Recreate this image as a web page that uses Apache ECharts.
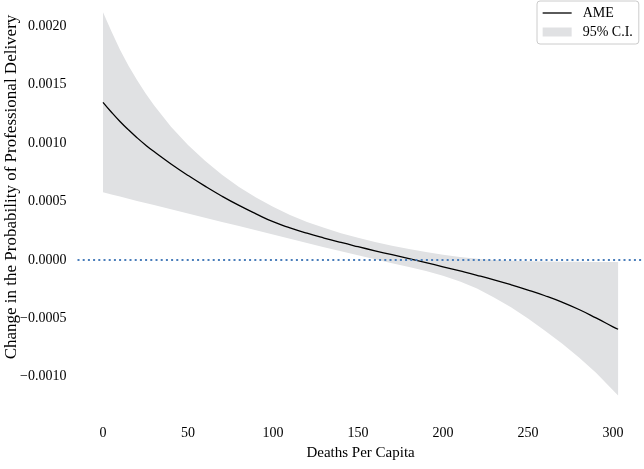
<!DOCTYPE html>
<html>
<head>
<meta charset="utf-8">
<script src="https://cdn.jsdelivr.net/npm/echarts@6/dist/echarts.min.js"></script>
<style>
html,body{margin:0;padding:0;background:#fff;}
#chart{width:644px;height:469px;}
</style>
</head>
<body>
<div id="chart"></div>
<script>
// Deaths per capita (x)
const deaths = [0,5,10,15,20,25,30,40,50,60,70,80,90,100,110,120,130,140,150,160,170,180,190,200,210,220,230,240,250,260,270,280,290,300,303];
// Average marginal effect (x 1e-3)
const ame = [1.350,1.265,1.186,1.114,1.047,0.985,0.928,0.822,0.724,0.632,0.546,0.467,0.395,0.328,0.275,0.229,0.188,0.150,0.114,0.079,0.045,0.011,-0.023,-0.058,-0.094,-0.131,-0.170,-0.212,-0.257,-0.306,-0.361,-0.424,-0.496,-0.572,-0.593];
// 95% CI upper bound (x 1e-3)
const ciUpper = [2.120,1.955,1.800,1.663,1.540,1.428,1.325,1.140,0.985,0.850,0.730,0.625,0.535,0.455,0.385,0.325,0.275,0.230,0.190,0.155,0.123,0.095,0.068,0.045,0.025,0.010,0.000,-0.006,-0.010,-0.013,-0.015,-0.016,-0.017,-0.017,-0.017];
// 95% CI lower bound (x 1e-3)
const ciLower = [0.580,0.561,0.543,0.524,0.506,0.488,0.470,0.434,0.398,0.362,0.326,0.290,0.254,0.218,0.182,0.146,0.110,0.074,0.040,0.006,-0.027,-0.060,-0.095,-0.135,-0.185,-0.245,-0.320,-0.405,-0.500,-0.605,-0.715,-0.835,-0.965,-1.115,-1.160];
const yTicks = [-0.0010,-0.0005,0.0000,0.0005,0.0010,0.0015,0.0020];
const xTicks = [0,50,100,150,200,250,300];
const yTitle = 'Change in the Probability of Professional Delivery';
const xTitle = 'Deaths Per Capita';

const SCALE = 1e-3;
const FONT = 'Liberation Serif';
const BAND = '#e0e1e3';

const ameData = deaths.map((x,i)=>[x, ame[i]*SCALE]);
const bandData = deaths.map((x,i)=>[x, ciLower[i]*SCALE, ciUpper[i]*SCALE]);

function fmtY(v){
  const s = Math.abs(v).toFixed(4);
  return v < -1e-12 ? '\u2212' + s : s;
}

function renderBand(params, api){
  if (params.dataIndex !== 0) return null;
  const top = [], bottom = [];
  for (let i = 0; i < deaths.length; i++){
    top.push(api.coord([deaths[i], ciUpper[i]*SCALE]));
    bottom.push(api.coord([deaths[i], ciLower[i]*SCALE]));
  }
  const pts = top.concat(bottom.reverse());
  return {type:'polygon', shape:{points:pts}, style:{fill:BAND, stroke:null}, silent:true};
}

const chart = echarts.init(document.getElementById('chart'), null, {renderer:'canvas'});
chart.setOption({
  animation:false,
  backgroundColor:'#ffffff',
  textStyle:{fontFamily:FONT},
  grid:{left:77.5, right:0.4, top:3, bottom:51.3, outerBoundsMode:'none', containLabel:false},
  graphic:[{
    type:'text', x:12, y:187, rotation:Math.PI/2, silent:true,
    style:{text:yTitle, fontFamily:FONT, fontSize:17, fill:'#000', align:'center', verticalAlign:'middle'}
  }],
  legend:{
    orient:'vertical', left:537, top:1,
    padding:[5,6,5,5], itemWidth:29, itemHeight:9, itemGap:5,
    borderColor:'#cccccc', borderWidth:1, borderRadius:3, backgroundColor:'#ffffff',
    textStyle:{fontFamily:FONT, fontSize:14, color:'#000', padding:[0,0,0,6]},
    data:[
      {name:'AME', itemStyle:{opacity:0}, lineStyle:{color:'#000', width:1.3}},
      {name:'95% C.I.', icon:'rect', itemStyle:{color:BAND}}
    ]
  },
  xAxis:{
    type:'value', min:-15, max:318,
    name:xTitle, nameLocation:'middle', nameGap:26,
    nameTextStyle:{fontFamily:FONT, fontSize:15, color:'#000'},
    axisLine:{show:false}, axisTick:{show:false}, splitLine:{show:false},
    axisLabel:{customValues:xTicks, fontFamily:FONT, fontSize:14, color:'#000', margin:9}
  },
  yAxis:{
    type:'value', min:-0.00135, max:0.0022,
    axisLine:{show:false}, axisTick:{show:false}, splitLine:{show:false},
    axisLabel:{customValues:yTicks, fontFamily:FONT, fontSize:14, color:'#000', margin:11, formatter:fmtY}
  },
  series:[
    {
      name:'95% C.I.', type:'custom', data:bandData, renderItem:renderBand,
      encode:{x:0, y:[1,2]}, itemStyle:{color:BAND}, z:1, silent:true, clip:true
    },
    {
      name:'AME', type:'line', data:ameData, symbol:'none', smooth:true,
      lineStyle:{color:'#000', width:1.3}, itemStyle:{color:'#000'}, z:3,
      markLine:{
        silent:true, symbol:'none', label:{show:false},
        lineStyle:{color:'#4a7ebb', width:1.8, type:[2,3.2]},
        data:[{yAxis:0}]
      }
    }
  ]
});
</script>
</body>
</html>
